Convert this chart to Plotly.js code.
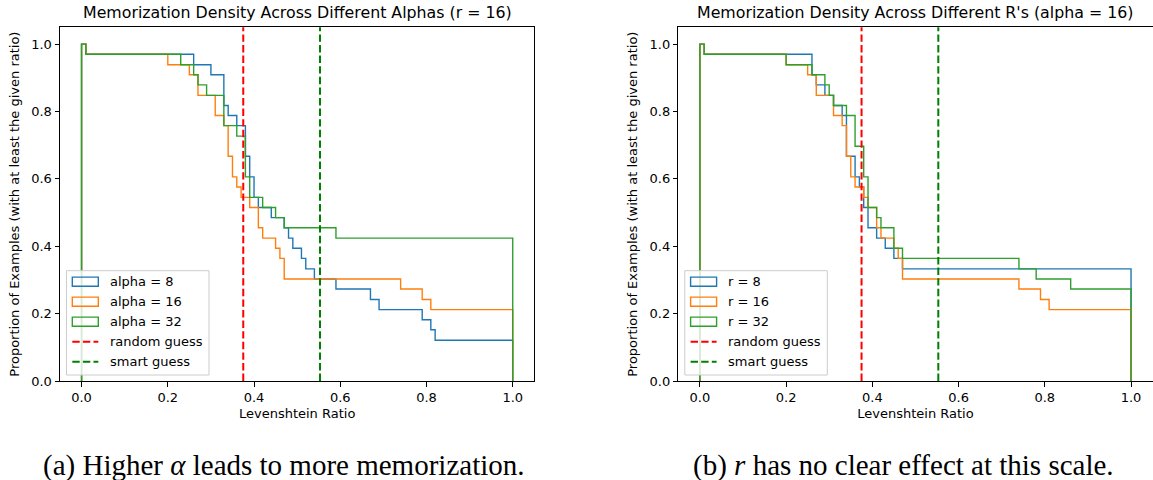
<!DOCTYPE html>
<html>
<head>
<meta charset="utf-8">
<script src="https://cdn.plot.ly/plotly-3.0.1.min.js"></script>
<style>html,body{margin:0;padding:0;background:#fff;}#chart{width:1153px;height:480px;}</style>
</head>
<body>
<div id="chart"></div>
<script>
// ---------- data ----------
// left panel: r = 16, varying alpha. Each series: x where a step level starts, and that level
const alpha8_x  = [0, 0.01, 0.26, 0.30, 0.33, 0.34, 0.36, 0.38, 0.39, 0.40, 0.41, 0.44, 0.47, 0.48, 0.49, 0.51, 0.52, 0.54, 0.59, 0.67, 0.69, 0.79, 0.81, 0.82];
const alpha8_y  = [1.0, 0.970, 0.939, 0.909, 0.818, 0.788, 0.758, 0.667, 0.606, 0.545, 0.515, 0.485, 0.455, 0.424, 0.394, 0.364, 0.333, 0.303, 0.273, 0.242, 0.212, 0.182, 0.152, 0.121];
const alpha16_x = [0, 0.01, 0.20, 0.25, 0.27, 0.31, 0.33, 0.34, 0.35, 0.36, 0.37, 0.39, 0.41, 0.42, 0.45, 0.46, 0.47, 0.74, 0.79, 0.81];
const alpha16_y = [1.0, 0.970, 0.939, 0.909, 0.848, 0.788, 0.758, 0.667, 0.606, 0.576, 0.545, 0.515, 0.455, 0.424, 0.394, 0.364, 0.303, 0.273, 0.242, 0.212];
const alpha32_x = [0, 0.01, 0.23, 0.26, 0.27, 0.29, 0.33, 0.36, 0.38, 0.39, 0.42, 0.45, 0.47, 0.59];
const alpha32_y = [1.0, 0.970, 0.939, 0.909, 0.879, 0.848, 0.758, 0.727, 0.606, 0.545, 0.515, 0.485, 0.455, 0.424];
// right panel: alpha = 16, varying r
const r8_x  = [0, 0.01, 0.26, 0.27, 0.29, 0.31, 0.33, 0.34, 0.36, 0.37, 0.38, 0.39, 0.41, 0.43, 0.45, 0.47];
const r8_y  = [1.0, 0.970, 0.909, 0.879, 0.848, 0.818, 0.788, 0.667, 0.606, 0.576, 0.515, 0.455, 0.424, 0.394, 0.364, 0.333];
const r16_x = [0, 0.01, 0.20, 0.25, 0.27, 0.31, 0.33, 0.34, 0.35, 0.36, 0.38, 0.39, 0.41, 0.42, 0.45, 0.46, 0.47, 0.74, 0.79, 0.81];
const r16_y = [1.0, 0.970, 0.939, 0.909, 0.848, 0.788, 0.758, 0.667, 0.606, 0.576, 0.545, 0.515, 0.455, 0.424, 0.394, 0.364, 0.303, 0.273, 0.242, 0.212];
const r32_x = [0, 0.01, 0.20, 0.26, 0.29, 0.30, 0.31, 0.34, 0.36, 0.38, 0.39, 0.41, 0.42, 0.45, 0.47, 0.74, 0.78, 0.86];
const r32_y = [1.0, 0.970, 0.939, 0.909, 0.879, 0.848, 0.818, 0.788, 0.697, 0.606, 0.515, 0.485, 0.455, 0.394, 0.364, 0.333, 0.303, 0.273];
const binEnd = 1.0;
const randomGuess = 0.375;
const smartGuess = 0.553;

const leftLabels  = ['alpha = 8', 'alpha = 16', 'alpha = 32', 'random guess', 'smart guess'];
const rightLabels = ['r = 8', 'r = 16', 'r = 32', 'random guess', 'smart guess'];
const xTicks = [0, 0.2, 0.4, 0.6, 0.8, 1.0];
const yTicks = [0, 0.2, 0.4, 0.6, 0.8, 1.0];
const titles = ['Memorization Density Across Different Alphas (r = 16)', "Memorization Density Across Different R's (alpha = 16)"];
const captions = ['(a) Higher <i>α</i> leads to more memorization.', '(b) <i>r</i> has no clear effect at this scale.'];

// ---------- styling ----------
const C = ['#1f77b4', '#ff7f0e', '#2ca02c'];
const RED = '#ff0000', GREEN = '#008000';
const FONT = 'DejaVu Sans';
const W = 1153, H = 480;
const axW = 474.3, axH = 353.7;
const leftX0 = 60, rightX0 = 678.3, axTop = 27.3;

function stepTrace(xs, ys, color, name, xa, ya) {
  return {
    type: 'scatter', mode: 'lines', name: name, xaxis: xa, yaxis: ya,
    x: [xs[0]].concat(xs, [binEnd]),
    y: [0].concat(ys, [0]),
    line: {shape: 'hv', color: color, width: 1.4},
    showlegend: false, hoverinfo: 'skip'
  };
}

const data = [
  stepTrace(alpha8_x, alpha8_y, C[0], leftLabels[0], 'x', 'y'),
  stepTrace(alpha16_x, alpha16_y, C[1], leftLabels[1], 'x', 'y'),
  stepTrace(alpha32_x, alpha32_y, C[2], leftLabels[2], 'x', 'y'),
  stepTrace(r8_x, r8_y, C[0], rightLabels[0], 'x2', 'y2'),
  stepTrace(r16_x, r16_y, C[1], rightLabels[1], 'x2', 'y2'),
  stepTrace(r32_x, r32_y, C[2], rightLabels[2], 'x2', 'y2')
];

function axisX(x0) {
  return {
    domain: [x0 / W, (x0 + axW) / W], range: [-0.05, 1.05],
    tickvals: xTicks, tickformat: '.1f',
    showline: true, mirror: true, linecolor: '#000', linewidth: 1,
    ticks: 'outside', ticklen: 4.5, tickwidth: 1, tickcolor: '#000',
    showgrid: false, zeroline: false, automargin: false, fixedrange: true,
    tickfont: {family: FONT, size: 13, color: '#000'},
    title: {text: 'Levenshtein Ratio', font: {family: FONT, size: 13, color: '#000'}, standoff: 4}
  };
}
function axisY(anchor) {
  return {
    anchor: anchor,
    domain: [(H - axTop - axH) / H, (H - axTop) / H], range: [0, 1.05],
    tickvals: yTicks, tickformat: '.1f',
    showline: true, mirror: true, linecolor: '#000', linewidth: 1,
    ticks: 'outside', ticklen: 4.5, tickwidth: 1, tickcolor: '#000',
    showgrid: false, zeroline: false, automargin: false, fixedrange: true,
    tickfont: {family: FONT, size: 13, color: '#000'},
    title: {text: 'Proportion of Examples (with at least the given ratio)', font: {family: FONT, size: 13, color: '#000'}, standoff: 8}
  };
}

const shapes = [];
const annotations = [];

function guessLines(xr, yr) {
  [[randomGuess, RED], [smartGuess, GREEN]].forEach(function (g) {
    shapes.push({type: 'line', xref: xr, yref: yr + ' domain', x0: g[0], x1: g[0], y0: 0, y1: 1,
      line: {color: g[1], width: 2, dash: '7.4px,3.2px'}, layer: 'above'});
  });
}

function legend(xr, yr, labels) {
  const xd = xr + ' domain', yd = yr + ' domain';
  shapes.push({type: 'rect', xref: xd, yref: yd, x0: 6.5 / axW, x1: 149 / axW, y0: 6 / axH, y1: 110.3 / axH,
    fillcolor: 'rgba(255,255,255,0.8)', line: {color: '#cccccc', width: 1}, layer: 'above'});
  const rows = [99.3, 79.3, 59.3, 39.3, 19.3];
  const hx0 = 12.3 / axW, hx1 = 38.3 / axW;
  for (let i = 0; i < 3; i++) {
    shapes.push({type: 'rect', xref: xd, yref: yd, x0: hx0, x1: hx1,
      y0: (rows[i] - 4.55) / axH, y1: (rows[i] + 4.55) / axH,
      fillcolor: 'rgba(0,0,0,0)', line: {color: C[i], width: 1.4}, layer: 'above'});
  }
  [[3, RED], [4, GREEN]].forEach(function (g) {
    shapes.push({type: 'line', xref: xd, yref: yd, x0: hx0, x1: hx1, y0: rows[g[0]] / axH, y1: rows[g[0]] / axH,
      line: {color: g[1], width: 2, dash: '7.4px,3.2px'}, layer: 'above'});
  });
  labels.forEach(function (lab, i) {
    annotations.push({xref: xd, yref: yd, x: 47.7 / axW, y: rows[i] / axH, xanchor: 'left', yanchor: 'middle',
      text: lab, showarrow: false, font: {family: FONT, size: 13, color: '#000'}});
  });
}

guessLines('x', 'y');
guessLines('x2', 'y2');
legend('x', 'y', leftLabels);
legend('x2', 'y2', rightLabels);

[['x', 'y'], ['x2', 'y2']].forEach(function (p, i) {
  annotations.push({xref: p[0] + ' domain', yref: p[1] + ' domain', x: 0.5, y: 1, xanchor: 'center', yanchor: 'bottom',
    yshift: 3, text: titles[i], showarrow: false, font: {family: FONT, size: 15.8, color: '#000'}});
});
[[284, captions[0]], [903, captions[1]]].forEach(function (c) {
  annotations.push({xref: 'paper', yref: 'paper', x: c[0] / W, y: 15 / H, xanchor: 'center', yanchor: 'middle',
    text: c[1], showarrow: false, font: {family: 'Liberation Serif', size: 29, color: '#000'}});
});

const layout = {
  width: W, height: H, autosize: false,
  margin: {l: 0, r: 0, t: 0, b: 0, pad: 0},
  paper_bgcolor: '#fff', plot_bgcolor: '#fff',
  showlegend: false,
  xaxis: axisX(leftX0), yaxis: axisY('x'),
  xaxis2: axisX(rightX0), yaxis2: axisY('x2'),
  shapes: shapes, annotations: annotations
};
layout.xaxis.anchor = 'y';
layout.xaxis2.anchor = 'y2';

Plotly.newPlot('chart', data, layout, {displayModeBar: false, staticPlot: true});
</script>
</body>
</html>
